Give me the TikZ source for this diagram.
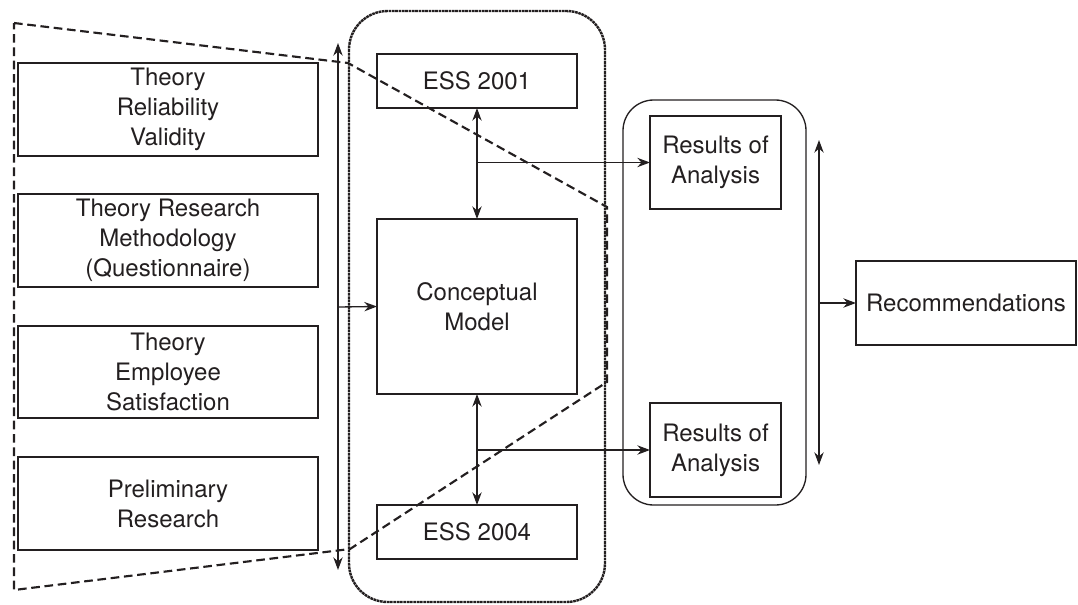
\documentclass[tikz,border=0pt]{standalone}
\usepackage{fontspec}
\setmainfont{TeX Gyre Heros}
\usetikzlibrary{arrows.meta}
\definecolor{ink}{HTML}{231F20}
\begin{document}
\begin{tikzpicture}[x=0.75pt,y=-0.75pt,
  box/.style={draw=ink,line width=1pt,inner sep=0pt,outer sep=0pt,align=center,text=ink,
    font=\fontsize{18}{22.5}\selectfont},
  conn/.style={draw=ink,line width=1pt,-{Stealth[length=9.5pt,width=7pt]}},
  dconn/.style={draw=ink,line width=1pt,{Stealth[length=9.5pt,width=7pt]}-{Stealth[length=9.5pt,width=7pt]}},
  bigdash/.style={draw=ink,line width=1.6pt,dash pattern=on 6.5pt off 3.5pt},
  dotframe/.style={draw=ink,line width=1.8pt,dash pattern=on 2pt off 0.5pt},
  solframe/.style={draw=ink,line width=1pt}]
\useasboundingbox (0,0) rectangle (1078,604);
% left boxes
\node[box,minimum width=225pt,minimum height=69.75pt] (t1) at (168,109.5) {Theory\\Reliability\\Validity};
\node[box,minimum width=225pt,minimum height=69.75pt] (t2) at (168,240.5) {Theory Research\\Methodology\\(Questionnaire)};
\node[box,minimum width=225pt,minimum height=69pt] (t3) at (168,372) {Theory\\Employee\\Satisfaction};
\node[box,minimum width=225pt,minimum height=69.75pt] (t4) at (168,503.5) {Preliminary\\Research};
% centre boxes
\node[box,minimum width=150pt,minimum height=40.5pt] (e1) at (477,81) {ESS 2001};
\node[box,minimum width=150pt,minimum height=131.25pt] (cm) at (477,306.5) {Conceptual\\Model};
\node[box,minimum width=150pt,minimum height=40.5pt] (e2) at (477,532) {ESS 2004};
% results
\node[box,minimum width=98.25pt,minimum height=69.75pt] (r1) at (715.5,162.5) {Results of\\Analysis};
\node[box,minimum width=98.25pt,minimum height=70.5pt] (r2) at (715.5,450) {Results of\\Analysis};
\node[box,minimum width=165pt,minimum height=63pt] (rec) at (966,303) {Recommendations};
% frames
\draw[dotframe,rounded corners=29pt] (349,11) rectangle (605,602);
\draw[solframe,rounded corners=23pt] (623,100) rectangle (806,505);
\draw[bigdash] (14,23) -- (348,63) -- (607,207) -- (607,382) -- (350,549) -- (14,590) -- cycle;
% coordinates
\coordinate (ltop) at (338,43);
\coordinate (lbot) at (338,570);
\coordinate (lmid) at (338,307);
\coordinate (j1) at (477,162.5);
\coordinate (j2) at (477,450);
\coordinate (rtop) at (819,140);
\coordinate (rbot) at (819,465);
\coordinate (rmid) at (819,303);
% connectors
\draw[dconn] (lbot) -- (ltop);
\draw[conn] (lmid) -- (cm.west);
\draw[dconn] (e1.south) -- (cm.north);
\draw[conn] (j1) -- (r1.west);
\draw[dconn] (cm.south) -- (e2.north);
\draw[conn] (j2) -- (r2.west);
\draw[dconn] (rbot) -- (rtop);
\draw[conn] (rmid) -- (rec.west);
\end{tikzpicture}
\end{document}
